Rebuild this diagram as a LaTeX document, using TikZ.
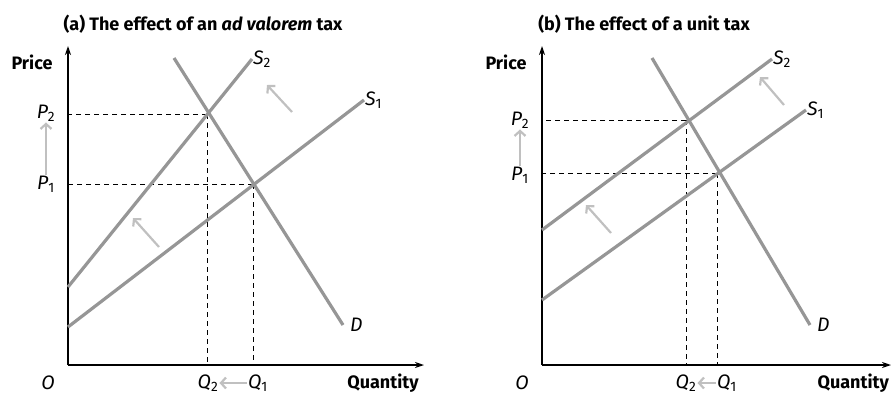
\documentclass[tikz,border=0pt]{standalone}
\usepackage{fontspec}
\setmainfont{Fira Sans}
\usetikzlibrary{arrows.meta}
\definecolor{curvegray}{RGB}{150,150,150}
\definecolor{shiftgray}{RGB}{192,192,192}
\newcommand{\sublab}[2]{\textit{#1}\textsubscript{\upshape #2}}

\begin{document}
\begin{tikzpicture}[x=1pt, y=-1pt,
  curve/.style={line width=3.2pt, draw=curvegray},
  axis/.style={line width=1.5pt, -{Stealth[length=9pt, width=6pt]}},
  guide/.style={dash pattern=on 5pt off 4pt, line width=0.8pt},
  shiftarr/.style={line width=2.2pt, draw=shiftgray, -{Straight Barb[length=5pt, width=11pt]}},
  lab/.style={font=\fontsize{19.5}{21}\selectfont\itshape, inner sep=1pt},
  axlab/.style={font=\fontsize{18}{20}\selectfont\bfseries, inner sep=1pt},
  ttl/.style={font=\fontsize{18}{20}\selectfont\bfseries, inner sep=1pt}
]
\useasboundingbox (0,0) rectangle (891,394);

% (a) ad valorem tax
\node[ttl] (ttla) at (203,24) {(a) The effect of an \textit{ad valorem} tax};
\coordinate (oa) at (68,365);
\coordinate (ya) at (68,46);
\coordinate (xa) at (424,365);
\draw[axis] (oa) -- (ya);
\draw[axis] (oa) -- (xa);
\node[axlab] (pricea) at (32,62) {Price};
\node[axlab] (quanta) at (383,383) {Quantity};
\node[lab] (oalab) at (48,383) {O};

\coordinate (s2a0) at (68,287);  \coordinate (s2a1) at (252,59);
\coordinate (s1a0) at (68,327);  \coordinate (s1a1) at (364,100);
\coordinate (da0)  at (174,58);  \coordinate (da1)  at (343,325);
\coordinate (e2a) at (207,114);
\coordinate (e1a) at (253,184);
\draw[guide] (e2a) -- (e2a -| oa);
\draw[guide] (e2a) -- (e2a |- oa);
\draw[guide] (e1a) -- (e1a -| oa);
\draw[guide] (e1a) -- (e1a |- oa);
\draw[curve] (s2a0) -- (s2a1);
\draw[curve] (s1a0) -- (s1a1);
\draw[curve] (da0) -- (da1);
\node[lab, anchor=west] (s2alab) at (s2a1) {\sublab{S}{2}};
\node[lab, anchor=west] (s1alab) at (s1a1) {\sublab{S}{1}};
\node[lab, anchor=west] (dalab) at ([xshift=6pt]da1) {D};

\node[lab] (p2alab) at (46,113) {\sublab{P}{2}};
\node[lab] (p1alab) at (46,184) {\sublab{P}{1}};
\node[lab] (q2alab) at (208,383) {\sublab{Q}{2}};
\node[lab] (q1alab) at (258,383) {\sublab{Q}{1}};
\draw[shiftarr] (p1alab) -- (p2alab);
\draw[shiftarr] (q1alab) -- (q2alab);

\coordinate (ua0) at (292,112); \coordinate (ua1) at (267,85);
\coordinate (la0) at (159,247); \coordinate (la1) at (133,218);
\draw[shiftarr] (ua0) -- (ua1);
\draw[shiftarr] (la0) -- (la1);

% (b) unit tax
\node[ttl] (ttlb) at (644,24) {(b) The effect of a unit tax};
\coordinate (ob) at (542,365);
\coordinate (yb) at (542,46);
\coordinate (xb) at (891,365);
\draw[axis] (ob) -- (yb);
\draw[axis] (ob) -- (xb);
\node[axlab] (priceb) at (506,62) {Price};
\node[axlab, anchor=east] (quantb) at (890,383) {Quantity};
\node[lab] (oblab) at (522,383) {O};

\coordinate (s2b0) at (542,230); \coordinate (s2b1) at (772,59);
\coordinate (s1b0) at (542,300); \coordinate (s1b1) at (806,110);
\coordinate (db0)  at (652,58);  \coordinate (db1)  at (810,325);
\coordinate (e2b) at (686,120);
\coordinate (e1b) at (717,173);
\draw[guide] (e2b) -- (e2b -| ob);
\draw[guide] (e2b) -- (e2b |- ob);
\draw[guide] (e1b) -- (e1b -| ob);
\draw[guide] (e1b) -- (e1b |- ob);
\draw[curve] (s2b0) -- (s2b1);
\draw[curve] (s1b0) -- (s1b1);
\draw[curve] (db0) -- (db1);
\node[lab, anchor=west] (s2blab) at (s2b1) {\sublab{S}{2}};
\node[lab, anchor=west] (s1blab) at (s1b1) {\sublab{S}{1}};
\node[lab, anchor=west] (dblab) at ([xshift=6pt]db1) {D};

\node[lab] (p2blab) at (520,120) {\sublab{P}{2}};
\node[lab] (p1blab) at (520,175) {\sublab{P}{1}};
\node[lab] (q2blab) at (686,383) {\sublab{Q}{2}};
\node[lab] (q1blab) at (727,383) {\sublab{Q}{1}};
\draw[shiftarr] (p1blab) -- (p2blab);
\draw[shiftarr] (q1blab) -- (q2blab);

\coordinate (ub0) at (784,105); \coordinate (ub1) at (760,77);
\coordinate (lb0) at (611,233); \coordinate (lb1) at (586,205);
\draw[shiftarr] (ub0) -- (ub1);
\draw[shiftarr] (lb0) -- (lb1);
\end{tikzpicture}
\end{document}
